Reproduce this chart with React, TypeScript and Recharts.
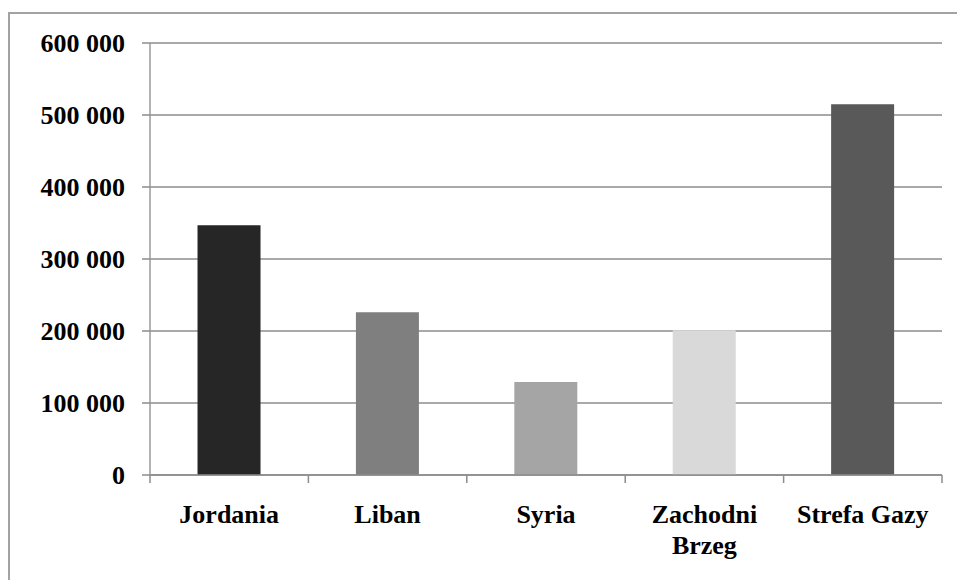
import { BarChart, Bar, XAxis, YAxis, CartesianGrid, Cell } from 'recharts';

const categories = ['Jordania', 'Liban', 'Syria', 'Zachodni Brzeg', 'Strefa Gazy'];
const refugees = [347000, 226000, 129000, 201000, 515000];
const barColors = ['#262626', '#7f7f7f', '#a5a5a5', '#d9d9d9', '#595959'];
const yTicks = [0, 100000, 200000, 300000, 400000, 500000, 600000];

const data = categories.map((name, i) => ({ name, value: refugees[i] }));

const W = 957;
const H = 580;
const MARGIN = { top: 43, right: 15, left: 0, bottom: 5 };
const Y_AXIS_W = 150;
const X_AXIS_H = 100;
const PLOT_BOTTOM = H - MARGIN.bottom - X_AXIS_H;
const STEP = (W - MARGIN.left - MARGIN.right - Y_AXIS_W) / categories.length;

const FONT = '"Liberation Serif", "Times New Roman", serif';
const AXIS_GREY = '#8c8c8c';

function formatThousands(v: number): string {
  return String(v).replace(/\B(?=(\d{3})+(?!\d))/g, ' ');
}

// break long category names into lines of at most ~12 characters
function wrapLabel(label: string, maxChars = 12): string[] {
  const lines: string[] = [];
  let cur = '';
  for (const w of label.split(' ')) {
    const next = cur ? cur + ' ' + w : w;
    if (next.length > maxChars && cur) {
      lines.push(cur);
      cur = w;
    } else {
      cur = next;
    }
  }
  if (cur) lines.push(cur);
  return lines;
}

function CategoryTick(props: any) {
  const { x, payload, index } = props;
  const left = x - STEP / 2;
  const isLast = index === categories.length - 1;
  const lines = wrapLabel(String(payload.value));
  return (
    <g>
      <line x1={left} x2={left} y1={PLOT_BOTTOM} y2={PLOT_BOTTOM + 8} stroke={AXIS_GREY} strokeWidth={1.5} />
      {isLast && (
        <line x1={x + STEP / 2} x2={x + STEP / 2} y1={PLOT_BOTTOM} y2={PLOT_BOTTOM + 8} stroke={AXIS_GREY} strokeWidth={1.5} />
      )}
      <text
        x={x}
        y={PLOT_BOTTOM + 48}
        textAnchor="middle"
        style={{ fontFamily: FONT, fontWeight: 'bold', fontSize: 26, fill: '#000' }}
      >
        {lines.map((l, i) => (
          <tspan key={i} x={x} dy={i === 0 ? 0 : 31}>
            {l}
          </tspan>
        ))}
      </text>
    </g>
  );
}

export default function App() {
  return (
    <div style={{ position: 'absolute', left: 0, top: 0, width: W, height: H, overflow: 'hidden', background: '#fff' }}>
      <div
        style={{
          position: 'absolute',
          left: 8,
          top: 12,
          width: 1000,
          height: 700,
          borderLeft: '2px solid #a3a3a3',
          borderTop: '2px solid #a3a3a3',
        }}
      />
      <div style={{ position: 'absolute', left: 0, top: 0 }}>
        <BarChart width={W} height={H} data={data} margin={MARGIN} barCategoryGap="30%">
          <CartesianGrid vertical={false} stroke={AXIS_GREY} strokeWidth={1.5} />
          <XAxis
            dataKey="name"
            height={X_AXIS_H}
            interval={0}
            tickLine={false}
            axisLine={{ stroke: AXIS_GREY, strokeWidth: 1.5 }}
            tick={<CategoryTick />}
          />
          <YAxis
            width={Y_AXIS_W}
            domain={[0, 600000]}
            ticks={yTicks}
            interval={0}
            tickSize={8}
            tickMargin={17}
            tickLine={{ stroke: AXIS_GREY, strokeWidth: 1.5 }}
            axisLine={{ stroke: '#9a9a9a', strokeWidth: 1.5 }}
            tickFormatter={formatThousands}
            tick={{ fill: '#000', fontSize: 26, fontWeight: 'bold', fontFamily: FONT }}
          />
          <Bar dataKey="value" isAnimationActive={false}>
            {data.map((d, i) => (
              <Cell key={d.name} fill={barColors[i]} />
            ))}
          </Bar>
        </BarChart>
      </div>
    </div>
  );
}
